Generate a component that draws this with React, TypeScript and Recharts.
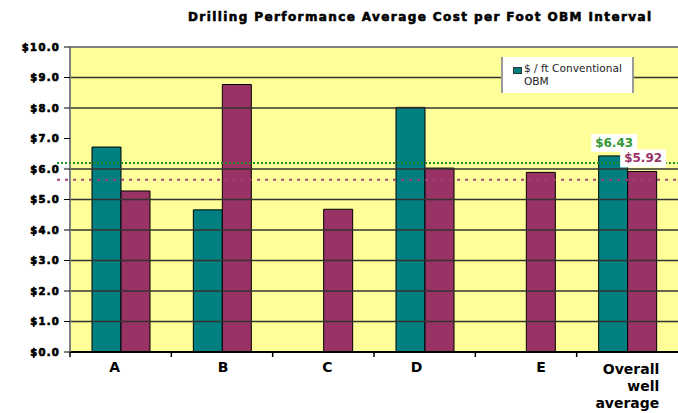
import React from 'react';
import { BarChart, Bar, XAxis, YAxis, CartesianGrid, ReferenceLine, LabelList, Legend } from 'recharts';

const categories = ['A', 'B', 'C', 'D', 'E', 'Overall well average'];
const conventional: (number | null)[] = [6.72, 4.66, null, 8.02, null, 6.43];
const obm: number[] = [5.28, 8.77, 4.68, 6.03, 5.89, 5.92];
const labelledCategory = 'Overall well average';
const yTicks = [0, 1, 2, 3, 4, 5, 6, 7, 8, 9, 10];
const gridValues = [1, 2, 3, 4, 5, 6, 8, 9];
const conventionalAvg = 6.2;
const obmAvg = 5.65;
const title = 'Drilling Performance Average Cost per Foot OBM Interval';
const conventionalName = '$ / ft Conventional OBM';

const data = categories.map((name, i) => ({
  name,
  conventional: conventional[i],
  obm: obm[i],
  convLabel: name === labelledCategory ? conventional[i] : null,
  obmLabel: name === labelledCategory ? obm[i] : null,
}));

const W = 678;
const H = 413;
const PLOT_LEFT = 70;
const PLOT_TOP = 47;
const XAXIS_H = 61;
const PLOT_W = W - PLOT_LEFT;
const TEAL = '#008080';
const PLUM = '#993366';
const GREEN = '#339933';

const labelShift: Record<string, number> = { A: -6, B: 1, C: 4, D: -8, E: 15 };

const XTick = (props: any) => {
  const { x, y, payload } = props;
  const band = PLOT_W / categories.length;
  const left = x - band / 2;
  const words = String(payload.value).split(' ');
  const font = { fontFamily: 'DejaVu Sans', fontWeight: 'bold' as const, fontSize: 14, fill: '#000' };
  return (
    <g>
      <line x1={left} x2={left} y1={y} y2={y + 5} stroke="#000" strokeWidth={1.5} />
      {words.length > 1 ? (
        <text x={x + 32} y={y} textAnchor="end" {...font}>
          {words.map((w, i) => (
            <tspan key={i} x={x + 32} dy={i === 0 ? 22 : 17}>{w}</tspan>
          ))}
        </text>
      ) : (
        <text x={x + (labelShift[payload.value] || 0)} y={y + 20} textAnchor="middle" {...font}>
          {payload.value}
        </text>
      )}
    </g>
  );
};

const makeAvgLine = (color: string, dash: string) => (p: any) => (
  <line x1={p.x1 - 13} x2={p.x2} y1={p.y1} y2={p.y2} stroke={color} strokeWidth={2} strokeDasharray={dash} />
);

const makeValueLabel = (color: string) => (p: any) => {
  const { x, y, width, value } = p;
  if (value == null || value === '') return null;
  const cx = Number(x) + Number(width) / 2;
  const top = Number(y);
  return (
    <g>
      <rect x={cx - 22} y={top - 22} width={46} height={18} fill="#fff" />
      <text x={cx + 1} y={top - 13} textAnchor="middle" dominantBaseline="central"
        fontFamily="DejaVu Sans" fontWeight="bold" fontSize={12} fill={color}>
        {`$${Number(value).toFixed(2)}`}
      </text>
    </g>
  );
};

const LegendContent = (props: any) => {
  const items = (props.payload || []).filter((p: any) => p.type !== 'none');
  return (
    <div style={{
      width: 133, height: 36, boxSizing: 'border-box', background: '#fff',
      borderLeft: '2px solid #9a9a9a', borderRight: '2px solid #9a9a9a',
      padding: '5px 2px 0 10px', fontFamily: 'DejaVu Sans', fontSize: 10.6, color: '#222', lineHeight: '13px',
    }}>
      {items.map((it: any, i: number) => (
        <div key={i} style={{ display: 'flex', alignItems: 'flex-start' }}>
          <span style={{ display: 'inline-block', width: 7, height: 5, marginTop: 5, marginRight: 2, background: it.color, border: '0.5px solid #333', flex: 'none' }} />
          <span style={{ width: 112 }}>{it.value}</span>
        </div>
      ))}
    </div>
  );
};

export default function App() {
  return (
    <div style={{ position: 'absolute', left: 0, top: 0, width: W, height: H, background: '#fff', overflow: 'hidden' }}>
      <div style={{
        position: 'absolute', left: 188, top: 10, whiteSpace: 'nowrap', fontFamily: 'DejaVu Sans',
        fontWeight: 'bold', fontSize: 12, letterSpacing: 1.4, color: '#000', WebkitTextStroke: '0.6px #000',
      }}>{title}</div>
      <BarChart width={W} height={H} data={data} margin={{ top: PLOT_TOP, right: 0, bottom: 0, left: 0 }}
        barGap={0} barSize={29}>
        <CartesianGrid horizontal={false} vertical={false} fill="#FFFF99" stroke="none" />
        {gridValues.map((v) => (
          <ReferenceLine key={v} y={v} stroke="#333" strokeWidth={1.5} />
        ))}
        <ReferenceLine y={10} stroke="#808080" strokeWidth={2} />
        <XAxis dataKey="name" height={XAXIS_H} interval={0} tickLine={false} tickSize={0} tickMargin={0}
          axisLine={{ stroke: '#000', strokeWidth: 2 }} tick={<XTick />} />
        <YAxis width={PLOT_LEFT} domain={[0, 10]} ticks={yTicks} interval={0}
          tickFormatter={(v: number) => `$${v.toFixed(1)}`}
          axisLine={{ stroke: '#808080', strokeWidth: 2 }} tickLine={{ stroke: '#000' }} tickSize={6} tickMargin={4}
          tick={{ fill: '#000', fontSize: 10, fontWeight: 'bold', fontFamily: 'DejaVu Sans', letterSpacing: 1.3, stroke: '#000', strokeWidth: 0.7 }} />
        <Legend layout="horizontal" verticalAlign="middle" align="center"
          wrapperStyle={{ left: 501, top: 57, width: 133, height: 36 }} content={<LegendContent />} />
        <Bar dataKey="conventional" name={conventionalName} fill={TEAL} stroke="#000" strokeWidth={1} isAnimationActive={false} />
        <Bar dataKey="obm" name="OBM avg" legendType="none" fill={PLUM} stroke="#000" strokeWidth={1} isAnimationActive={false} />
      </BarChart>
      <div style={{ position: 'absolute', left: 0, top: 0, width: W, height: H, pointerEvents: 'none' }}>
        <BarChart width={W} height={H} data={data}
          margin={{ top: PLOT_TOP, right: 0, bottom: 0, left: 0 }} barGap={0} barSize={29}>
          <XAxis dataKey="name" height={XAXIS_H} tick={false} axisLine={false} tickLine={false} />
          <YAxis width={PLOT_LEFT} domain={[0, 10]} ticks={yTicks} tick={false} axisLine={false} tickLine={false} />
          <ReferenceLine y={conventionalAvg} ifOverflow="visible" shape={makeAvgLine('#1f8f1f', '2 2')} />
          <ReferenceLine y={obmAvg} ifOverflow="visible" shape={makeAvgLine('#a3407a', '3 5')} />
          <Bar dataKey="conventional" fill="transparent" stroke="none" legendType="none" isAnimationActive={false}>
            <LabelList dataKey="convLabel" content={makeValueLabel(GREEN)} />
          </Bar>
          <Bar dataKey="obm" fill="transparent" stroke="none" legendType="none" isAnimationActive={false}>
            <LabelList dataKey="obmLabel" content={makeValueLabel(PLUM)} />
          </Bar>
        </BarChart>
      </div>
    </div>
  );
}
